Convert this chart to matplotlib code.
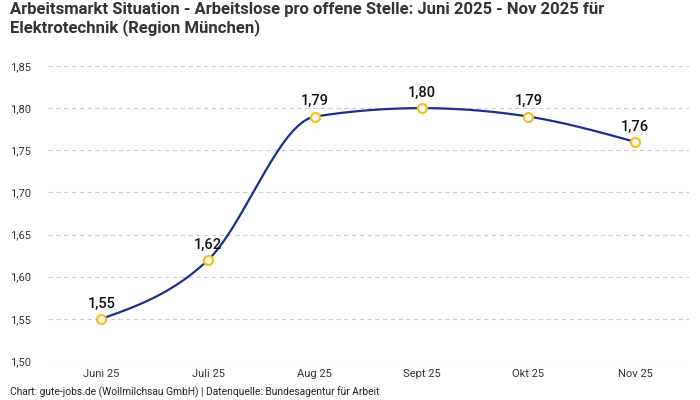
import numpy as np
import matplotlib
matplotlib.use("Agg")
import matplotlib.pyplot as plt

categories = ["Juni 25", "Juli 25", "Aug 25", "Sept 25", "Okt 25", "Nov 25"]
values = [1.55, 1.62, 1.79, 1.80, 1.79, 1.76]
labels = ["1,55", "1,62", "1,79", "1,80", "1,79", "1,76"]
yticks = [1.50, 1.55, 1.60, 1.65, 1.70, 1.75, 1.80, 1.85]
ytick_labels = ["1,50", "1,55", "1,60", "1,65", "1,70", "1,75", "1,80", "1,85"]

plt.rcParams['font.family'] = ['Roboto', 'DejaVu Sans']

def monotone_curve(x, y, n=40):
    x = np.asarray(x, float); y = np.asarray(y, float)
    h = np.diff(x); d = np.diff(y) / h
    m = np.zeros_like(y)
    for i in range(1, len(y) - 1):
        p = (d[i-1]*h[i] + d[i]*h[i-1]) / (h[i-1] + h[i])
        m[i] = (np.sign(d[i-1]) + np.sign(d[i])) * min(abs(d[i-1]), abs(d[i]), 0.5*abs(p))
    m[0] = (3*d[0] - m[1]) / 2
    m[-1] = (3*d[-1] - m[-2]) / 2
    xs, ys = [], []
    for i in range(len(x) - 1):
        t = np.linspace(0, 1, n)
        h00 = 2*t**3 - 3*t**2 + 1; h10 = t**3 - 2*t**2 + t
        h01 = -2*t**3 + 3*t**2; h11 = t**3 - t**2
        xs.append(x[i] + t*h[i])
        ys.append(h00*y[i] + h10*h[i]*m[i] + h01*y[i+1] + h11*h[i]*m[i+1])
    return np.concatenate(xs), np.concatenate(ys)

fig = plt.figure(figsize=(7, 4), dpi=100)
ax = fig.add_axes([0.0686, 0.0975, 0.915, 0.7375])

xpos = np.arange(len(categories))
cx, cy = monotone_curve(xpos, values)
ax.plot(cx, cy, color="#1a2f8f", lw=1.6, zorder=3)
ax.scatter(xpos, values, s=42, facecolor="white", edgecolor="#f7bf1a", linewidth=1.6, zorder=4)
for xi, v, lab in zip(xpos, values, labels):
    ax.annotate(lab, (xi, v), xytext=(0, 6), textcoords="offset points",
                ha="center", va="bottom", fontsize=10.5, fontweight="medium", color="#111111")

ax.set_xlim(-0.5, len(categories) - 0.5)
ax.set_ylim(1.50, 1.85)
ax.set_yticks(yticks)
ax.set_yticklabels(ytick_labels)
ax.set_xticks(xpos)
ax.set_xticklabels(categories)
ax.tick_params(axis="both", length=0, labelsize=8, colors="#333333")
ax.tick_params(axis="y", pad=27)
ax.tick_params(axis="x", pad=6)
for lbl in ax.get_yticklabels():
    lbl.set_horizontalalignment("left")
ax.grid(axis="y", color="#cccccc", linestyle=(0, (4, 3)), lw=0.8)
ax.set_axisbelow(True)
for s in ax.spines.values():
    s.set_visible(False)

fig.text(0.014, 0.994, "Arbeitsmarkt Situation - Arbeitslose pro offene Stelle: Juni 2025 - Nov 2025 für\nElektrotechnik (Region München)",
         ha="left", va="top", fontsize=12, fontweight="bold", color="#333333", linespacing=1.15)
fig.text(0.014, 0.004, "Chart: gute-jobs.de (Wollmilchsau GmbH) | Datenquelle: Bundesagentur für Arbeit",
         ha="left", va="bottom", fontsize=7.4, color="#222222")

fig.savefig("out.png", dpi=100)
